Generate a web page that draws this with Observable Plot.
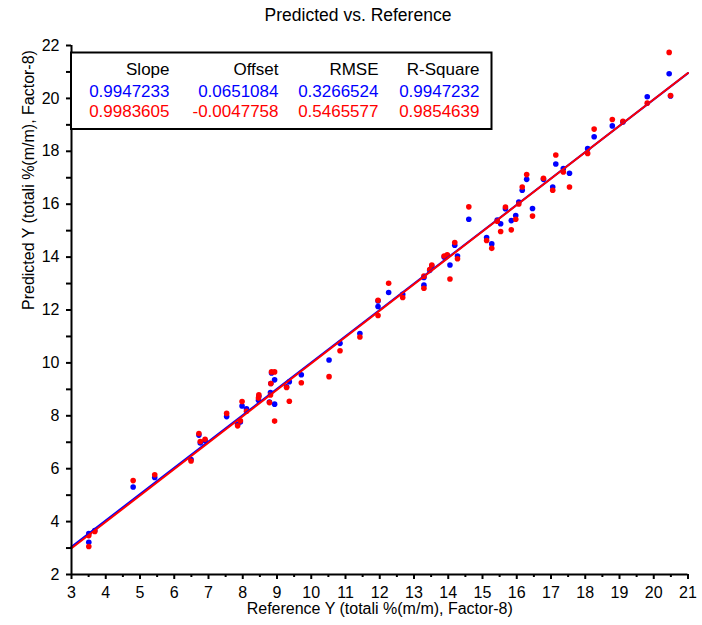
<!DOCTYPE html>
<html><head><meta charset="utf-8">
<script src="https://cdn.jsdelivr.net/npm/d3@7"></script>
<script src="https://cdn.jsdelivr.net/npm/@observablehq/plot@0.6"></script>
<style>body{margin:0;background:#fff;} svg{display:block}</style>
</head><body><div id="chart"></div>
<script>
// Reference values (x) and predicted values for the two models (blue, red)
const reference = [3.505,3.505,3.68,4.80,5.43,6.49,6.72,6.76,6.90,7.53,7.85,7.93,7.98,8.11,8.46,8.47,8.78,8.81,8.82,8.84,8.93,8.93,9.28,9.36,9.71,10.52,10.84,11.42,11.95,11.95,12.26,12.67,13.29,13.29,13.46,13.52,13.88,13.97,14.05,14.19,14.27,14.60,15.12,15.27,15.43,15.53,15.67,15.84,15.97,16.06,16.16,16.29,16.46,16.78,17.05,17.14,17.36,17.54,18.07,18.26,18.79,19.10,19.81,20.45,20.49];
const predictedBlue = [3.22,3.55,3.66,5.31,5.67,6.35,7.27,6.97,7.06,7.97,7.67,7.77,8.37,8.26,8.59,8.74,8.52,8.88,9.22,9.62,9.36,8.44,9.10,9.29,9.55,10.11,10.74,11.11,12.13,12.34,12.66,12.59,12.94,13.23,13.50,13.66,14.00,14.06,13.70,14.45,14.04,15.43,14.74,14.50,15.40,15.26,15.83,15.38,15.57,16.08,16.53,16.94,15.84,16.94,16.65,17.52,17.35,17.17,18.10,18.55,18.96,19.11,20.06,20.93,20.09];
const predictedRed = [3.06,3.47,3.63,5.55,5.77,6.29,7.33,7.03,7.11,8.09,7.62,7.81,8.54,8.17,8.67,8.79,8.50,8.79,9.22,9.66,9.66,7.80,9.07,8.55,9.25,9.48,10.46,10.98,11.79,12.37,13.01,12.47,12.82,13.28,13.53,13.70,14.04,14.09,13.17,14.55,13.94,15.90,14.63,14.33,15.36,14.97,15.89,15.03,15.43,16.01,16.65,17.12,15.55,16.98,16.53,17.86,17.22,16.65,17.92,18.84,19.20,19.13,19.82,21.74,20.11];

// Statistics table
const statNames = ["Slope", "Offset", "RMSE", "R-Square"];
const blueStats = [0.9947233, 0.0651084, 0.3266524, 0.9947232];
const redStats  = [0.9983605, -0.0047758, 0.5465577, 0.9854639];

// Axis ticks
const xTickValues = [3,4,5,6,7,8,9,10,11,12,13,14,15,16,17,18,19,20,21];
const xMinorTicks = [3.5,4.5,5.5,6.5,7.5,8.5,9.5,10.5,11.5,12.5,13.5,14.5,15.5,16.5,17.5,18.5,19.5,20.5];
const yTickValues = [2,3,4,5,6,7,8,9,10,11,12,13,14,15,16,17,18,19,20,21,22];
const yTickLabels = [2,4,6,8,10,12,14,16,18,20,22];

const titleText = "Predicted vs. Reference";
const xLabel = "Reference Y (totali %(m/m), Factor-8)";
const yLabel = "Predicted Y (totali %(m/m), Factor-8)";

const BLUE = "#0000ff", RED = "#ff0000";

const blueData = reference.map((x, i) => ({x, y: predictedBlue[i]}));
const redData = reference.map((x, i) => ({x, y: predictedRed[i]}));
const fitRange = [3, 21];
const blueLine = fitRange.map(x => ({x, y: blueStats[0] * x + blueStats[1]}));
const redLine = fitRange.map(x => ({x, y: redStats[0] * x + redStats[1]}));

const font = "'Liberation Sans', Arial, Helvetica, sans-serif";

const chart = Plot.plot({
  width: 702,
  height: 625,
  marginLeft: 71,
  marginRight: 14.5,
  marginTop: 45,
  marginBottom: 51,
  style: {fontFamily: font, fontSize: "16px", color: "black", background: "white", overflow: "visible"},
  x: {domain: [3, 21], label: null},
  y: {domain: [2, 22], label: null},
  marks: [
    Plot.dot(blueData, {x: "x", y: "y", r: 2.8, fill: BLUE, stroke: "none"}),
    Plot.dot(redData, {x: "x", y: "y", r: 2.8, fill: RED, stroke: "none"}),
    Plot.line(blueLine, {x: "x", y: "y", stroke: BLUE, strokeWidth: 2}),
    Plot.line(redLine, {x: "x", y: "y", stroke: RED, strokeWidth: 2}),
    Plot.axisX({ticks: xTickValues, tickSize: 5, tickPadding: 7, strokeWidth: 2, label: null, fontSize: 16}),
    Plot.axisX({ticks: xMinorTicks, tickSize: 3, strokeWidth: 2, text: null, label: null}),
    Plot.axisY({ticks: yTickValues, tickSize: 5, tickPadding: 7, strokeWidth: 2, label: null, fontSize: 16,
      tickFormat: d => yTickLabels.includes(d) ? String(d) : ""}),
    Plot.ruleX([3], {stroke: "black", strokeWidth: 2}),
    Plot.ruleY([2], {stroke: "black", strokeWidth: 2}),
    Plot.text([xLabel], {text: d => d, frameAnchor: "bottom", dy: 34, lineAnchor: "middle", fontSize: 16, fill: "black"}),
    Plot.text([yLabel], {text: d => d, frameAnchor: "left", dx: -43, rotate: -90, lineAnchor: "middle", fontSize: 16, fill: "black"})
  ]
});

document.getElementById("chart").appendChild(chart);

// Title
const svg = d3.select(chart);
svg.append("text")
  .attr("x", 358).attr("y", 21)
  .attr("text-anchor", "middle")
  .attr("font-family", font).attr("font-size", 17.5).attr("fill", "black")
  .text(titleText);

// Statistics box
const g = svg.append("g").attr("font-family", font).attr("font-size", 17);
g.append("rect").attr("x", 71).attr("y", 52.5).attr("width", 420.5).attr("height", 76.5)
  .attr("fill", "white").attr("stroke", "black").attr("stroke-width", 2);
const colRight = [169.5, 278.5, 378.5, 479.5];
const fmt = v => v.toFixed(7);
statNames.forEach((name, i) => {
  g.append("text").attr("x", colRight[i]).attr("y", 75).attr("text-anchor", "end").attr("fill", "black").text(name);
  g.append("text").attr("x", colRight[i]).attr("y", 96.5).attr("text-anchor", "end").attr("fill", BLUE).text(fmt(blueStats[i]));
  g.append("text").attr("x", colRight[i]).attr("y", 116.5).attr("text-anchor", "end").attr("fill", RED).text(fmt(redStats[i]));
});
</script>
</body></html>
